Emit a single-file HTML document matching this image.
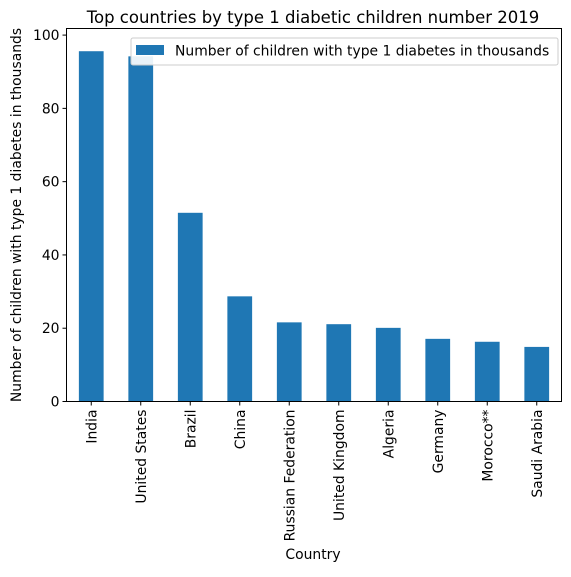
<!DOCTYPE html>
<html><head><meta charset="utf-8"><style>
body{margin:0;background:#fff;font-family:"Liberation Sans","DejaVu Sans",sans-serif;}
</style></head><body>
<svg id="chart" width="571" height="572" xmlns="http://www.w3.org/2000/svg" font-family="DejaVu Sans, Liberation Sans, sans-serif">
<rect width="571" height="572" fill="#fff"/>
<text x="313" y="23" font-size="16.5" text-anchor="middle">Top countries by type 1 diabetic children number 2019</text>
<g id="plot"></g>
<rect x="66.5" y="28.5" width="495" height="373" fill="none" stroke="#000" stroke-width="1"/>
<text x="313" y="559" font-size="13.9" text-anchor="middle">Country</text>
<text transform="translate(21,215) rotate(-90)" font-size="13.9" text-anchor="middle">Number of children with type 1 diabetes in thousands</text>
<g>
<rect x="131" y="38" width="427" height="27" rx="2" fill="#fff" fill-opacity="0.9" stroke="#ccc"/>
<rect x="136" y="45" width="28" height="10" fill="#1f77b4"/>
<text x="175" y="55.5" font-size="13.9">Number of children with type 1 diabetes in thousands</text>
</g>
</svg>
<script>
const categories=["India","United States","Brazil","China","Russian Federation","United Kingdom","Algeria","Germany","Morocco**","Saudi Arabia"];
const values=[95.6,94.2,51.5,28.7,21.6,21.1,20.1,17.1,16.3,14.9];
const yTicks=[0,20,40,60,80,100];
const L=66.5,R=561.5,T=28.5,B=401.5,yMax=101.8;
const NS="http://www.w3.org/2000/svg";
const g=document.getElementById('plot');
const xs=i=>L+(i+0.5)*(R-L)/categories.length;
const ys=v=>B-v/yMax*(B-T);
const bw=0.5*(R-L)/categories.length;
function mk(t,a){const e=document.createElementNS(NS,t);for(const k in a)e.setAttribute(k,a[k]);g.appendChild(e);return e;}
values.forEach((v,i)=>{
 const r=mk('rect',{x:xs(i)-bw/2,y:ys(v),width:bw,height:B-ys(v),fill:'#1f77b4'});
 
 
 const tk=mk('line',{x1:xs(i),x2:xs(i),y1:B,y2:B+4,stroke:'#000'});
 
 
 const t=mk('text',{transform:`translate(${xs(i)+5},${B+8}) rotate(-90)`,'font-size':13.9,'text-anchor':'end'});
 t.textContent=categories[i];
 
 
});
yTicks.forEach(v=>{
 const tk=mk('line',{x1:L-4,x2:L,y1:ys(v),y2:ys(v),stroke:'#000'});
 
 
 const t=mk('text',{x:L-7,y:ys(v)+5,'font-size':13.9,'text-anchor':'end'});
 t.textContent=v;
 
 
});
</script>
</body></html>
